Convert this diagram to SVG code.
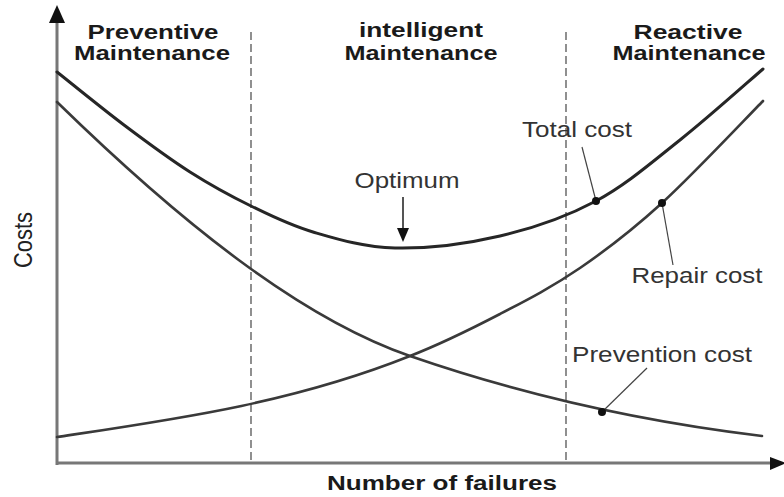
<svg xmlns="http://www.w3.org/2000/svg" width="784" height="497" viewBox="0 0 784 497">
<style>
.hdr{font-family:"Liberation Sans",Arial,sans-serif;font-weight:bold;font-size:20px;fill:#1a1a1a;text-anchor:middle}
.lbl{font-family:"Liberation Sans",Arial,sans-serif;font-size:22px;fill:#333;text-anchor:middle}
.curve{fill:none;stroke:#3a3a3a;stroke-width:2.6;stroke-linecap:round}
.axis{fill:none;stroke:#777;stroke-width:3}
.dash{fill:none;stroke:#555;stroke-width:1.3;stroke-dasharray:8 4}
.lead{fill:none;stroke:#444;stroke-width:1.2}
.dot{fill:#111}
</style>
<rect width="784" height="497" fill="#fff"/>
<g id="axes">
<line class="axis" x1="57" y1="465" x2="57" y2="20"/>
<polygon points="57,5 49,23 65,23" fill="#111"/>
<line class="axis" x1="56" y1="463" x2="772" y2="463"/>
<polygon points="786,463 770,457 770,470" fill="#111"/>
</g>
<g id="zones">
<line class="dash" x1="251" y1="32" x2="251" y2="462"/>
<line class="dash" x1="566" y1="32" x2="566" y2="462"/>
</g>
<g id="headers">
<text class="hdr" x="153" y="39" textLength="131" lengthAdjust="spacingAndGlyphs">Preventive</text>
<text class="hdr" x="152" y="60" textLength="156" lengthAdjust="spacingAndGlyphs">Maintenance</text>
<text class="hdr" x="421" y="37" textLength="124" lengthAdjust="spacingAndGlyphs">intelligent</text>
<text class="hdr" x="421" y="60" textLength="153" lengthAdjust="spacingAndGlyphs">Maintenance</text>
<text class="hdr" x="688" y="39" textLength="109" lengthAdjust="spacingAndGlyphs">Reactive</text>
<text class="hdr" x="689" y="60" textLength="153" lengthAdjust="spacingAndGlyphs">Maintenance</text>
</g>
<g id="axis-labels">
<text class="hdr" x="442" y="490" textLength="230" lengthAdjust="spacingAndGlyphs">Number of failures</text>
<text class="lbl" style="fill:#222" transform="translate(31.5,240) rotate(-90) scale(1,1.2)" x="0" y="0" font-size="21" textLength="56" lengthAdjust="spacingAndGlyphs">Costs</text>
</g>
<g id="connectors">
<path id="total-cost-curve" class="curve" style="stroke:#262626;stroke-width:3" d="M57,72 C68.2,80.8 101.8,108.3 124,125 C146.2,141.7 168.8,158.5 190,172 C211.2,185.5 230.5,196 251,206 C271.5,216 289,225 313,232 C337,239 363.8,247.3 395,248 C426.2,248.7 466.5,243.8 500,236 C533.5,228.2 566,217 596,201 C626,185 652.2,162 680,140 C707.8,118 749.2,80.8 763,69"/>
<path id="prevention-cost-curve" class="curve" d="M57,102 C180,222 300,318 410,356 C527,396.4 645,422 762,436"/>
<path id="repair-cost-curve" class="curve" d="M57,437 C175,419.3 292,403.2 410,356 C438.3,345 471.7,328.7 500,314 C528.3,299.3 553,286.5 580,268 C607,249.5 631.5,230.8 662,203 C692.5,175.2 746.2,118 763,101"/>
<line class="lead" x1="582" y1="147" x2="596" y2="201"/>
<line class="lead" x1="662" y1="203" x2="673" y2="265"/>
<line class="lead" x1="647" y1="368" x2="602" y2="412"/>
<line x1="403" y1="197" x2="403" y2="230" stroke="#555" stroke-width="2"/>
<polygon points="397,228 409,228 403,242" fill="#111"/>
</g>
<g id="total-cost">
<circle class="dot" cx="596" cy="201" r="4"/>
<text class="lbl" x="577" y="137" textLength="110" lengthAdjust="spacingAndGlyphs">Total cost</text>
</g>
<g id="repair-cost">
<circle class="dot" cx="662" cy="203" r="4"/>
<text class="lbl" x="697" y="283" textLength="131" lengthAdjust="spacingAndGlyphs">Repair cost</text>
</g>
<g id="prevention-cost">
<circle class="dot" cx="602" cy="412" r="4"/>
<text class="lbl" x="662" y="362" textLength="180" lengthAdjust="spacingAndGlyphs">Prevention cost</text>
</g>
<g id="optimum">
<text class="lbl" x="407" y="188" textLength="105" lengthAdjust="spacingAndGlyphs">Optimum</text>
</g>
</svg>
